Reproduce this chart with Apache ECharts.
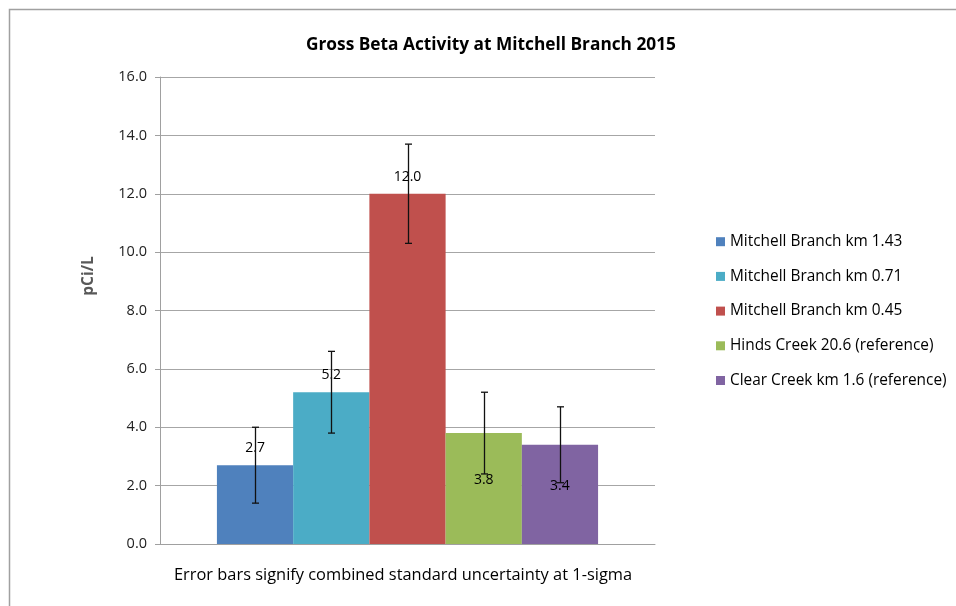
<!DOCTYPE html>
<html>
<head>
<meta charset="utf-8">
<script src="https://cdn.jsdelivr.net/npm/echarts@6/dist/echarts.min.js"></script>
<style>html,body{margin:0;padding:0;background:#fff;}#c{width:956px;height:606px;}</style>
</head>
<body>
<div id="c"></div>
<script>
const titleText = 'Gross Beta Activity at Mitchell Branch 2015';
const yAxisName = 'pCi/L';
const footnote = 'Error bars signify combined standard uncertainty at 1-sigma';
const seriesNames = ['Mitchell Branch km 1.43', 'Mitchell Branch km 0.71', 'Mitchell Branch km 0.45', 'Hinds Creek 20.6 (reference)', 'Clear Creek km 1.6 (reference)'];
const values = [2.7, 5.2, 12.0, 3.8, 3.4];
const uncertainty = [1.3, 1.4, 1.7, 1.4, 1.3];
const colors = ['#4F81BD', '#4BACC6', '#C0504D', '#9BBB59', '#8064A2'];
const labelInside = [false, false, false, true, true];
const labelDistance = [10, 10, 10, 40, 34];

const GAP = 0.23;
const FONT = '"Open Sans", "Noto Sans", sans-serif';

const chart = echarts.init(document.getElementById('c'), null, {renderer: 'canvas'});

const barSeries = seriesNames.map((name, i) => ({
  name: name,
  type: 'bar',
  barGap: '0%',
  barCategoryGap: (GAP * 100) + '%',
  itemStyle: {color: colors[i]},
  label: {
    show: true,
    position: labelInside[i] ? 'insideTop' : 'top',
    distance: labelDistance[i],
    color: '#000',
    fontFamily: FONT,
    fontSize: 14,
    formatter: p => p.value.toFixed(1)
  },
  data: [values[i]],
  z: 2
}));

const errData = values.map((v, i) => [0, v - uncertainty[i], v + uncertainty[i], i]);

const errSeries = {
  type: 'custom',
  name: 'err',
  z: 10,
  silent: true,
  encode: {x: 0, y: [1, 2]},
  data: errData,
  renderItem: function (params, api) {
    const idx = api.value(3);
    const lo = api.coord([api.value(0), api.value(1)]);
    const hi = api.coord([api.value(0), api.value(2)]);
    const band = api.size([1, 0])[0];
    const n = values.length;
    const bw = band * (1 - GAP) / n;
    const x = Math.round(lo[0] - n / 2 * bw + (idx + 0.5) * bw) + 0.5;
    const cap = 3.5;
    const style = {stroke: '#111', lineWidth: 1.3};
    return {
      type: 'group',
      children: [
        {type: 'line', shape: {x1: x, y1: lo[1], x2: x, y2: hi[1]}, style: style},
        {type: 'line', shape: {x1: x - cap, y1: lo[1], x2: x + cap, y2: lo[1]}, style: style},
        {type: 'line', shape: {x1: x - cap, y1: hi[1], x2: x + cap, y2: hi[1]}, style: style}
      ]
    };
  }
};

chart.setOption({
  animation: false,
  backgroundColor: '#fff',
  color: colors,
  title: {
    text: titleText,
    left: 486,
    textAlign: 'center',
    top: 32,
    textStyle: {fontFamily: FONT, fontWeight: 'bold', fontSize: 17.3, color: '#000'}
  },
  legend: {
    orient: 'vertical',
    left: 716,
    top: 234,
    padding: 0,
    itemWidth: 9,
    itemHeight: 9,
    itemGap: 19.3,
    icon: 'rect',
    data: seriesNames,
    textStyle: {fontFamily: FONT, fontSize: 15.4, color: '#000', lineHeight: 15.4}
  },
  grid: {left: 160, right: 301, top: 77, bottom: 62, containLabel: false},
  xAxis: {
    type: 'category',
    data: [''],
    axisLine: {show: true, lineStyle: {color: '#A0A0A0', width: 1}},
    axisTick: {show: false},
    axisLabel: {show: false}
  },
  yAxis: {
    type: 'value',
    min: 0,
    max: 16,
    interval: 2,
    axisLine: {show: true, lineStyle: {color: '#A0A0A0', width: 1}},
    axisTick: {show: true, length: 5, lineStyle: {color: '#A0A0A0'}},
    axisLabel: {fontFamily: FONT, fontSize: 14.5, color: '#222', margin: 13, formatter: v => v.toFixed(1)},
    splitLine: {show: true, lineStyle: {color: '#A6A6A6', width: 1}}
  },
  graphic: [
    {type: 'rect', shape: {x: 9.5, y: 9.5, width: 1100, height: 800}, style: {fill: 'none', stroke: '#A0A0A0', lineWidth: 1.5}, silent: true, z: -10},
    {type: 'text', x: 89, y: 276, rotation: Math.PI / 2, style: {text: yAxisName, font: 'bold 15.5px ' + FONT, fill: '#595959', textAlign: 'center', textVerticalAlign: 'middle'}},
    {type: 'text', left: 174, top: 567, style: {text: footnote, font: '16.4px ' + FONT, fill: '#000'}}
  ],
  series: barSeries.concat([errSeries])
});
</script>
</body>
</html>
